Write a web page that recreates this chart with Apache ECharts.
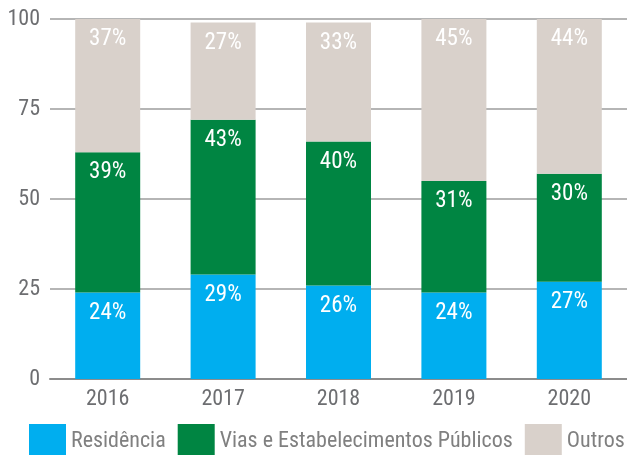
<!DOCTYPE html>
<html>
<head>
<meta charset="utf-8">
<script src="https://cdn.jsdelivr.net/npm/echarts@6/dist/echarts.min.js"></script>
<style>
  html, body { margin: 0; padding: 0; background: #ffffff; }
  #chart { width: 627px; height: 455px; }
</style>
</head>
<body>
<div id="chart"></div>
<script>
// Share of occurrences by location, per year (%)
const years = ['2016', '2017', '2018', '2019', '2020'];
const residencia = [24, 29, 26, 24, 27];
const viasPublicas = [39, 43, 40, 31, 30];
const outros = [37, 27, 33, 45, 44];
const yTicks = [0, 25, 50, 75, 100];

const FONT = '"Roboto Condensed", "Liberation Sans Narrow", "Arial Narrow", Roboto, sans-serif';
const GREY_TEXT = '#6d6e71';

const chart = echarts.init(document.getElementById('chart'), null, { renderer: 'canvas' });

function barSeries(name, data, color) {
  return {
    name: name,
    type: 'bar',
    stack: 'total',
    data: data,
    barWidth: 65,
    itemStyle: { color: color },
    label: {
      show: true,
      position: 'insideTop',
      distance: 9,
      color: '#ffffff',
      fontFamily: FONT,
      fontSize: 23,
      formatter: p => p.value + '%'
    },
    emphasis: { disabled: true }
  };
}

chart.setOption({
  animation: false,
  textStyle: { fontFamily: FONT },
  grid: { left: 50, top: 19, width: 579, bottom: 76, containLabel: false },
  legend: {
    left: 29,
    top: 424,
    padding: 0,
    itemWidth: 37,
    itemHeight: 34,
    itemGap: 12,
    icon: 'rect',
    textStyle: { fontFamily: FONT, fontSize: 22, color: '#808080' },
    data: ['Residência', 'Vias e Estabelecimentos Públicos', 'Outros']
  },
  xAxis: {
    type: 'category',
    data: years,
    axisTick: { show: false },
    axisLine: { lineStyle: { color: '#8c8c8c', width: 2 } },
    axisLabel: { color: GREY_TEXT, fontSize: 22, margin: 9, fontFamily: FONT }
  },
  yAxis: {
    type: 'value',
    min: yTicks[0],
    max: yTicks[yTicks.length - 1],
    interval: 25,
    axisLine: { show: false },
    axisTick: { show: false },
    axisLabel: { color: GREY_TEXT, fontSize: 22, margin: 10, fontFamily: FONT },
    splitLine: { lineStyle: { color: '#b5b5b5', width: 2 } }
  },
  series: [
    barSeries('Residência', residencia, '#00aeef'),
    barSeries('Vias e Estabelecimentos Públicos', viasPublicas, '#008542'),
    barSeries('Outros', outros, '#d9d1cb')
  ]
});
</script>
</body>
</html>
